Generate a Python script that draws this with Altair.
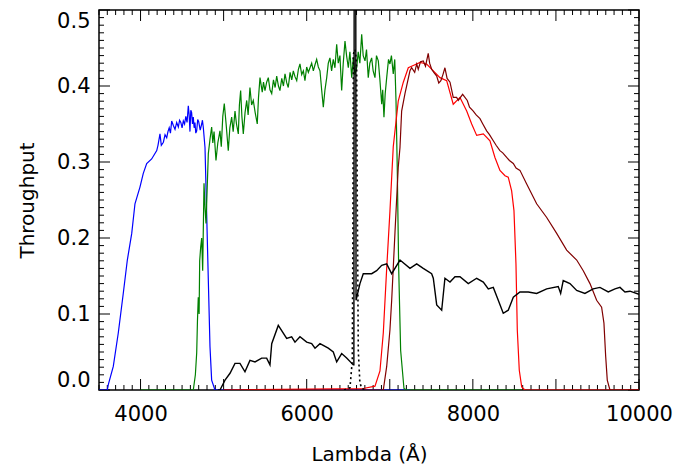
import altair as alt
import pandas as pd

FONT = "DejaVu Sans"

# ---- data (wavelength in Angstrom, throughput) ----
blue_x = [3500, 3600, 3612, 3672, 3732, 3792, 3841, 3894, 3933, 3993, 4033, 4074, 4134, 4195,
          4210, 4234, 4250, 4275, 4295, 4315, 4330, 4345, 4360, 4375, 4395, 4415, 4435, 4455,
          4470, 4485, 4500, 4515, 4530, 4545, 4560, 4575, 4585, 4595, 4605, 4615, 4625, 4635,
          4645, 4655, 4665, 4676, 4688, 4700, 4718, 4736, 4745, 4755, 4776, 4796, 4816, 4836,
          4856, 4896, 7250]
blue_y = [0.0, 0.0, 0.007, 0.031, 0.075, 0.127, 0.171, 0.206, 0.245, 0.267, 0.285, 0.298, 0.304, 0.315,
          0.322, 0.337, 0.322, 0.326, 0.336, 0.332, 0.340, 0.345, 0.338, 0.354, 0.348, 0.343, 0.352, 0.346,
          0.355, 0.352, 0.345, 0.354, 0.350, 0.360, 0.352, 0.374, 0.362, 0.340, 0.368, 0.365, 0.350, 0.359,
          0.345, 0.352, 0.338, 0.341, 0.356, 0.353, 0.342, 0.350, 0.355, 0.346, 0.319, 0.232, 0.144, 0.057,
          0.013, 0.0, 0.0]

green_x = [4000, 4635, 4660, 4676, 4685, 4695, 4705, 4712, 4724, 4736, 4748, 4764, 4776, 4788,
           4816, 4836, 4856, 4870, 4885, 4908, 4930, 4956, 4972, 4990, 5008, 5030, 5056, 5075,
           5097, 5115, 5137, 5155, 5177, 5190, 5205, 5220, 5237, 5258, 5278, 5295, 5317, 5337,
           5357, 5380, 5405, 5420, 5438, 5465, 5480, 5498, 5518, 5538, 5558, 5579, 5600, 5620,
           5639, 5660, 5678, 5700, 5720, 5739, 5760, 5778, 5800, 5820, 5839, 5860, 5880, 5900,
           5919, 5940, 5960, 5979, 6000, 6020, 6040, 6060, 6080, 6100, 6120, 6140, 6160, 6180,
           6200, 6220, 6241, 6260, 6280, 6300, 6320, 6340, 6361, 6380, 6400, 6421, 6440, 6461,
           6480, 6501, 6520, 6542, 6561, 6580, 6602, 6620, 6640, 6662, 6680, 6702, 6720, 6741,
           6760, 6782, 6800, 6822, 6840, 6862, 6880, 6903, 6915, 6930, 6945, 6963, 6985, 7002,
           7020, 7042, 7060, 7075, 7090, 7107, 7131, 7171, 7203, 8600]
green_y = [0.0, 0.0, 0.020, 0.049, 0.090, 0.122, 0.100, 0.170, 0.188, 0.200, 0.157, 0.272, 0.240, 0.219,
           0.311, 0.330, 0.346, 0.325, 0.340, 0.302, 0.325, 0.341, 0.320, 0.360, 0.377, 0.350, 0.315, 0.345,
           0.359, 0.340, 0.367, 0.350, 0.337, 0.375, 0.394, 0.360, 0.337, 0.365, 0.381, 0.362, 0.398, 0.375,
           0.381, 0.365, 0.350, 0.385, 0.411, 0.392, 0.405, 0.394, 0.405, 0.411, 0.395, 0.390, 0.408, 0.398,
           0.413, 0.400, 0.394, 0.410, 0.400, 0.416, 0.404, 0.398, 0.418, 0.408, 0.420, 0.412, 0.407, 0.422,
           0.429, 0.415, 0.420, 0.407, 0.425, 0.418, 0.424, 0.430, 0.420, 0.428, 0.435, 0.425, 0.420, 0.395,
           0.372, 0.395, 0.411, 0.430, 0.437, 0.420, 0.435, 0.424, 0.455, 0.430, 0.440, 0.394, 0.430, 0.459,
           0.440, 0.424, 0.445, 0.411, 0.437, 0.415, 0.424, 0.445, 0.430, 0.468, 0.440, 0.433, 0.448, 0.411,
           0.430, 0.437, 0.420, 0.411, 0.440, 0.433, 0.410, 0.376, 0.395, 0.359, 0.390, 0.411, 0.435, 0.429,
           0.440, 0.416, 0.435, 0.381, 0.293, 0.162, 0.052, 0.002, 0.0, 0.0]

red_x = [5000, 6681, 6822, 6882, 6922, 6963, 7002, 7042, 7102, 7163, 7223, 7283, 7364, 7444,
         7524, 7604, 7685, 7764, 7845, 7926, 7986, 8046, 8126, 8206, 8266, 8326, 8387, 8426,
         8467, 8495, 8519, 8535, 8559, 8588, 8627, 10000]
red_y = [0.0, 0.002, 0.005, 0.025, 0.075, 0.160, 0.235, 0.320, 0.380, 0.405, 0.424, 0.427, 0.431, 0.429,
         0.420, 0.411, 0.407, 0.376, 0.385, 0.367, 0.350, 0.335, 0.337, 0.328, 0.306, 0.289, 0.282, 0.280,
         0.262, 0.236, 0.166, 0.079, 0.026, 0.004, 0.0, 0.0]

dred_x = [5000, 6922, 6963, 7002, 7023, 7063, 7102, 7123, 7143, 7183, 7243, 7263, 7300, 7324,
          7343, 7370, 7403, 7430, 7463, 7480, 7504, 7530, 7565, 7590, 7615, 7640, 7664, 7690,
          7725, 7764, 7805, 7825, 7877, 7933, 7960, 8005, 8040, 8086, 8120, 8166, 8200, 8246,
          8280, 8326, 8360, 8407, 8440, 8487, 8520, 8567, 8648, 8768, 8889, 9009, 9129, 9250,
          9329, 9410, 9490, 9550, 9578, 9599, 9618, 9650, 10000]
dred_y = [0.0, 0.0, 0.031, 0.079, 0.118, 0.208, 0.293, 0.319, 0.367, 0.390, 0.420, 0.424, 0.418, 0.429,
          0.422, 0.432, 0.433, 0.426, 0.443, 0.430, 0.422, 0.418, 0.413, 0.404, 0.407, 0.415, 0.424, 0.410,
          0.405, 0.385, 0.385, 0.381, 0.389, 0.381, 0.372, 0.367, 0.362, 0.357, 0.350, 0.341, 0.336, 0.328,
          0.322, 0.315, 0.312, 0.306, 0.302, 0.298, 0.292, 0.289, 0.271, 0.245, 0.227, 0.206, 0.184, 0.171,
          0.157, 0.140, 0.118, 0.109, 0.088, 0.044, 0.013, 0.0, 0.0]

spec_x = [4930, 4956, 5017, 5077, 5137, 5197, 5257, 5317, 5378, 5458, 5518, 5558, 5579, 5658,
          5759, 5819, 5859, 5919, 6000, 6060, 6100, 6160, 6260, 6320, 6361, 6421, 6481, 6561,
          6568, 6574, 6588, 6594, 6641, 6681, 6782, 6842, 6903, 6963, 7023, 7123, 7243, 7324,
          7403, 7504, 7524, 7565, 7625, 7664, 7725, 7785, 7845, 7945, 8046, 8126, 8186, 8246,
          8306, 8366, 8426, 8487, 8567, 8667, 8768, 8889, 9028, 9057, 9088, 9169, 9250, 9349,
          9449, 9530, 9630, 9711, 9771, 9831, 9891, 10000]
spec_y = [0.0, 0.0, 0.013, 0.022, 0.035, 0.035, 0.024, 0.039, 0.037, 0.042, 0.042, 0.033, 0.061, 0.085,
          0.068, 0.070, 0.063, 0.070, 0.063, 0.061, 0.055, 0.061, 0.055, 0.050, 0.037, 0.048, 0.042, 0.033,
          0.033, 0.900, 0.900, 0.118, 0.140, 0.153, 0.153, 0.157, 0.164, 0.166, 0.153, 0.171, 0.160, 0.166,
          0.160, 0.153, 0.147, 0.112, 0.105, 0.147, 0.142, 0.149, 0.149, 0.140, 0.147, 0.142, 0.133, 0.135,
          0.118, 0.101, 0.105, 0.122, 0.129, 0.129, 0.127, 0.133, 0.136, 0.127, 0.144, 0.140, 0.131, 0.127,
          0.133, 0.135, 0.129, 0.133, 0.135, 0.129, 0.130, 0.126]

nb_x = [6450, 6521, 6549, 6556, 6561, 6570, 6581, 6592, 6602, 6609, 6621, 6640, 6662, 6720]
nb_y = [0.0, 0.003, 0.039, 0.200, 0.440, 0.446, 0.448, 0.440, 0.424, 0.249, 0.052, 0.010, 0.002, 0.0]

x_labels = [4000, 6000, 8000, 10000]
y_labels = [0.0, 0.1, 0.2, 0.3, 0.4, 0.5]
x_major = [4000, 5000, 6000, 7000, 8000, 9000, 10000]
x_minor = [v for v in range(3500, 10001, 100) if v % 1000 != 0]
y_major = [0.0, 0.1, 0.2, 0.3, 0.4, 0.5]
y_minor = [round(i * 0.01, 2) for i in range(0, 51) if i % 10 != 0]

W, H = 540, 380

XS = alt.Scale(domain=[3500, 10000], nice=False, zero=False)
YS = alt.Scale(domain=[0, 0.5], nice=False, zero=False)

X_AX = alt.Axis(values=x_labels, format="d", title="Lambda (Å)", ticks=False, domain=False,
                grid=False, labelFlush=False, labelOverlap=False, labelFont=FONT, labelFontSize=21,
                labelColor="black", labelPadding=13, titleFont=FONT, titleFontSize=20,
                titleFontWeight="normal", titleColor="black", titlePadding=20)
Y_AX = alt.Axis(values=y_labels, format=".1f", title="Throughput", ticks=False, domain=False,
                grid=False, labelFlush=True, labelOverlap=False, labelFont=FONT, labelFontSize=21,
                labelColor="black", labelPadding=9, titleFont=FONT, titleFontSize=20,
                titleFontWeight="normal", titleColor="black", titlePadding=19)


def series(xs, ys, color, dash=None, width=1.2):
    df = pd.DataFrame({"x": xs, "y": ys})
    kw = dict(color=color, strokeWidth=width, clip=True)
    if dash:
        kw["strokeDash"] = dash
    return alt.Chart(df).mark_line(**kw).encode(
        x=alt.X("x:Q", scale=XS, axis=X_AX),
        y=alt.Y("y:Q", scale=YS, axis=Y_AX),
    )


def xticks(vals, y0, y1):
    return alt.Chart(pd.DataFrame({"x": vals})).mark_rule(color="black", strokeWidth=1).encode(
        x=alt.X("x:Q", scale=XS, axis=X_AX), y=alt.value(y0), y2=alt.value(y1))


def yticks(vals, x0, x1):
    return alt.Chart(pd.DataFrame({"y": vals})).mark_rule(color="black", strokeWidth=1).encode(
        y=alt.Y("y:Q", scale=YS, axis=Y_AX), x=alt.value(x0), x2=alt.value(x1))


layers = [
    xticks(x_major, H, H - 11), xticks(x_minor, H, H - 5),
    xticks(x_major, 0, 11), xticks(x_minor, 0, 5),
    yticks(y_major, 0, 11), yticks(y_minor, 0, 5),
    yticks(y_major, W, W - 11), yticks(y_minor, W, W - 5),
    series(blue_x, blue_y, "#0000ff"),
    series(green_x, green_y, "#008000"),
    series(red_x, red_y, "#ff0000"),
    series(dred_x, dred_y, "#800000"),
    series(spec_x, spec_y, "#000000", width=1.4),
    series(nb_x, nb_y, "#000000", dash=[2, 3], width=1.6),
]

chart = alt.layer(*layers).properties(
    width=W, height=H,
    autosize=alt.AutoSizeParams(type="none"),
    padding={"left": 91, "top": 2, "right": 47, "bottom": 75},
    background="white",
).configure_view(stroke="black", strokeWidth=1.5)

chart.save("out.html", embed_options={"renderer": "svg", "actions": False})
